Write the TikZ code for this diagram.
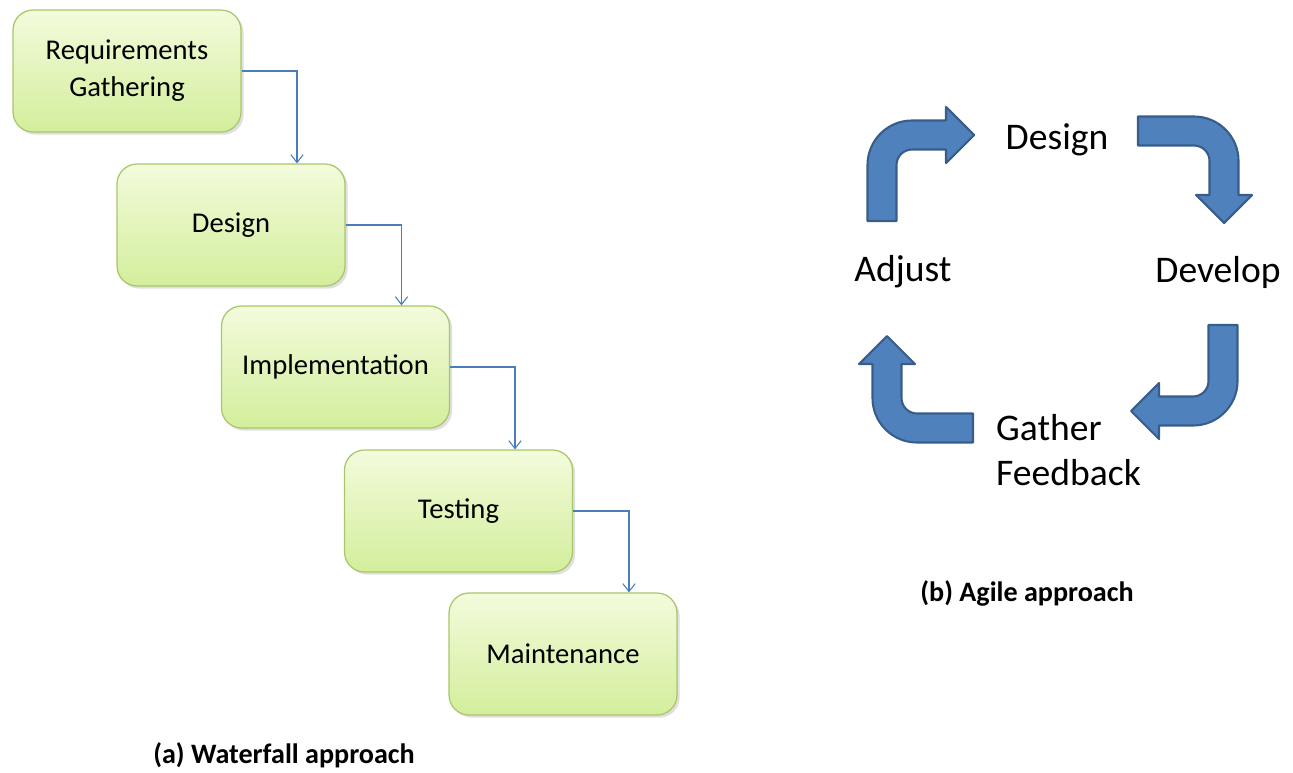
\documentclass[tikz,border=0pt]{standalone}
\usepackage{fontspec}
\setmainfont{Carlito}
\usepackage{tikz}
\usetikzlibrary{arrows.meta, shadows, calc}

\definecolor{boxtop}{HTML}{F3FBDC}
\definecolor{boxbottom}{HTML}{D3EE9C}
\definecolor{boxedge}{HTML}{A8C66A}
\definecolor{linkblue}{HTML}{4A7EBB}
\definecolor{turnfill}{HTML}{4F81BD}
\definecolor{turnedge}{HTML}{385D8A}

\tikzset{
	turnarrow/.pic={
		\path[agilearrow] (-14.5,0) -- (-14.5,-56)
		arc[start angle=180, end angle=270, radius=44.5]
		-- (64,-100.5) -- (64,-114) -- (92,-86) -- (64,-58) -- (64,-71.5)
		-- (30,-71.5) arc[start angle=270, end angle=180, radius=15.5]
		-- (14.5,0) -- cycle;
	}
}

\begin{document}
\begin{tikzpicture}[
		x=0.02cm, y=-0.02cm,
		phase/.style={draw=boxedge, line width=0.7pt, rounded corners=0.4cm,
			top color=boxtop, bottom color=boxbottom,
			minimum width=4.56cm, minimum height=2.44cm, align=center,
			font=\fontsize{16.3}{21}\selectfont,
			drop shadow={shadow xshift=1.5pt, shadow yshift=-1.5pt, opacity=0.25}},
		flow/.style={-{Straight Barb[length=4.5pt, width=7pt]}, draw=linkblue, line width=0.6pt},
		agilearrow/.style={fill=turnfill, draw=turnedge, line width=1.2pt, line join=round},
		word/.style={font=\fontsize{21.4}{26}\selectfont},
		caption/.style={font=\fontsize{16}{20}\selectfont\bfseries}
		]
		\useasboundingbox (0,0) rectangle (1293,772);
		
		% (a) Waterfall
		\node[phase] (req) at (127,71) {Requirements\\Gathering};
		\node[phase] (design) at (231,225) {Design};
		\node[phase] (impl) at (335.5,367) {Implementation};
		\node[phase] (test) at (458.5,511) {Testing};
		\node[phase] (maint) at (563,654) {Maintenance};
		
		\draw[flow] (req.east) -| ($(design.north)+(66,0)$);
		\draw[flow] (design.east) -| ($(impl.north)+(66,0)$);
		\draw[flow] (impl.east) -| ($(test.north)+(56.5,0)$);
		\draw[flow] (test.east) -| ($(maint.north)+(66,0)$);
		
		\node[caption] (capa) at (284,755) {(a) Waterfall approach};
		
		% (b) Agile
		\node[word] (adesign) at (1057,140) {Design};
		\node[word] (adjust) at (903,272) {Adjust};
		\node[word] (develop) at (1218,272) {Develop};
		\node[word, anchor=west, align=left] (gather) at (990,450) {Gather\\Feedback};
		
		\pic (turntl) at (882,221) {turnarrow};
		\pic[rotate=-90] (turntr) at (1138,131) {turnarrow};
		\pic[rotate=180] (turnbr) at (1223,325) {turnarrow};
		\pic[rotate=90] (turnbl) at (973,428) {turnarrow};
		
		\node[caption] (capb) at (1027,593) {(b) Agile approach};
		
	\end{tikzpicture}
\end{document}
